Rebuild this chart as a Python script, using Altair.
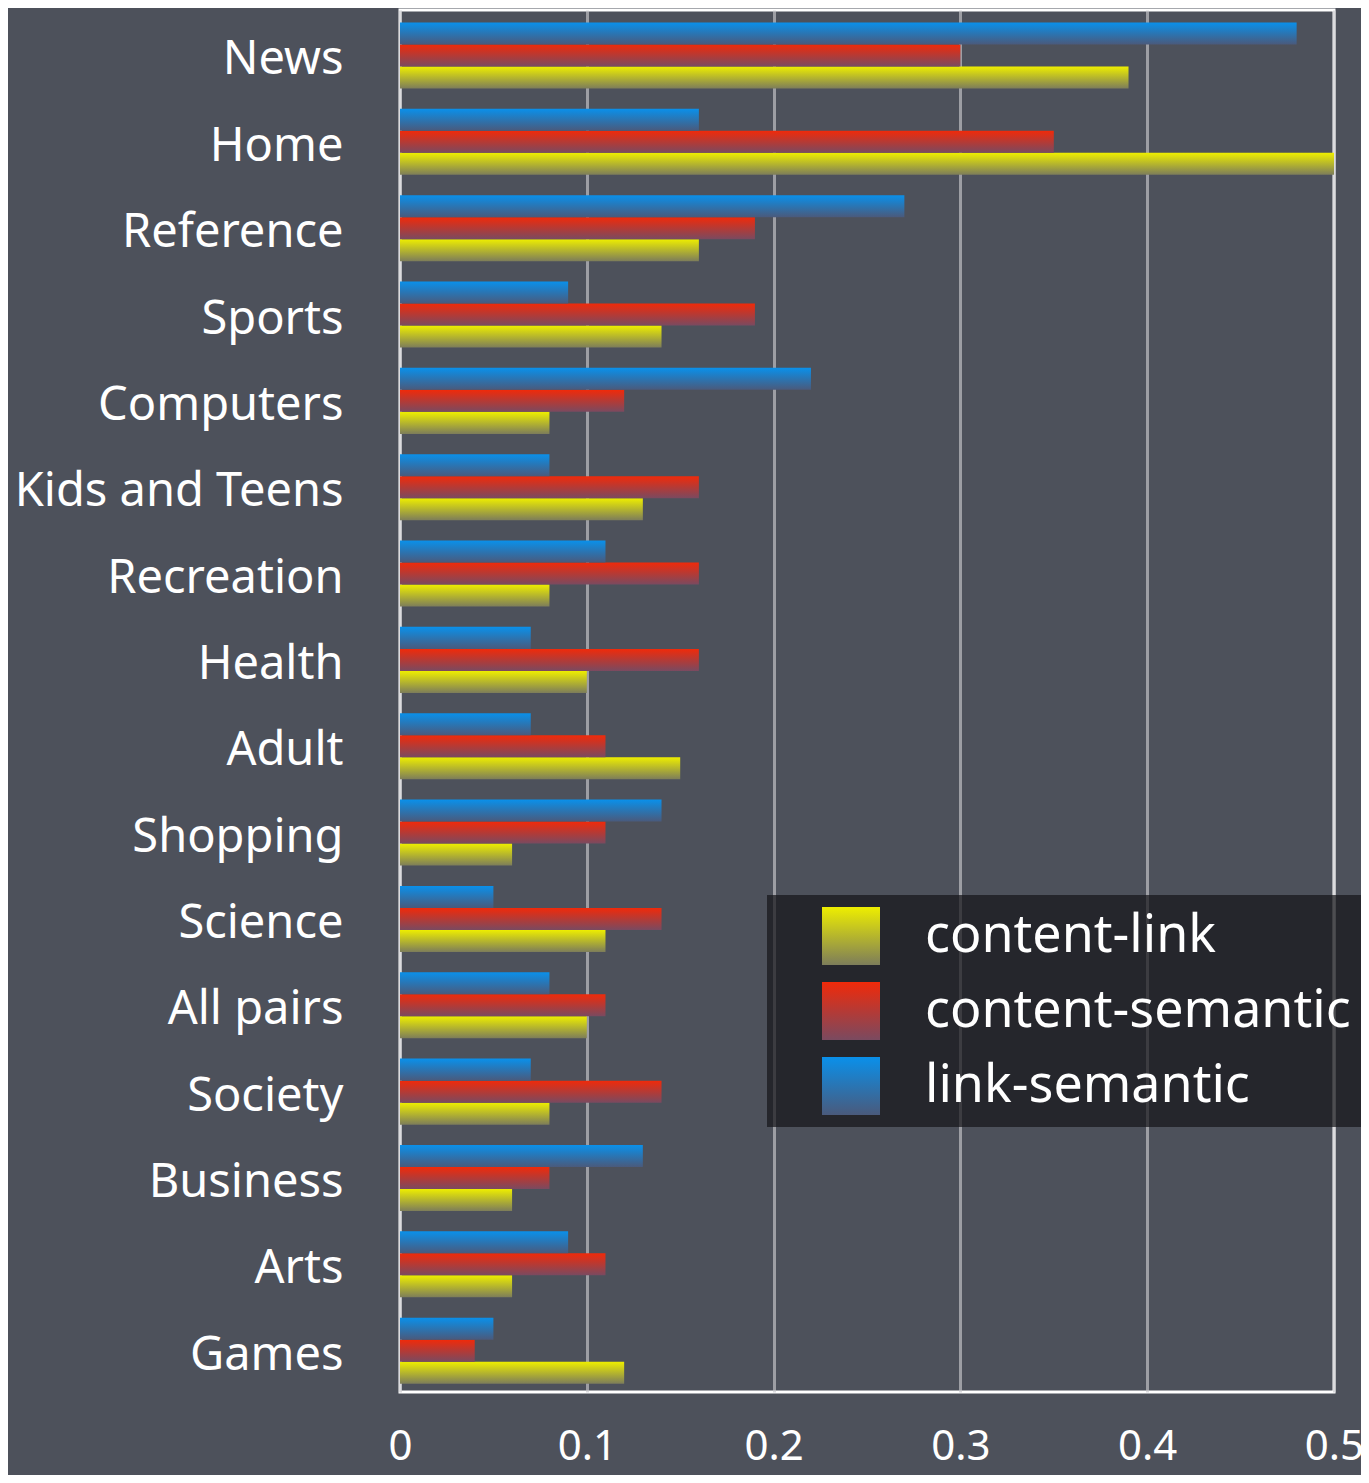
import altair as alt
import pandas as pd

categories = ["News", "Home", "Reference", "Sports", "Computers", "Kids and Teens",
              "Recreation", "Health", "Adult", "Shopping", "Science", "All pairs",
              "Society", "Business", "Arts", "Games"]
series_names = ["content-link", "content-semantic", "link-semantic"]
content_link = [0.39, 0.50, 0.16, 0.14, 0.08, 0.13, 0.08, 0.10, 0.15, 0.06, 0.11, 0.10, 0.08, 0.06, 0.06, 0.12]
content_semantic = [0.30, 0.35, 0.19, 0.19, 0.12, 0.16, 0.16, 0.16, 0.11, 0.11, 0.14, 0.11, 0.14, 0.08, 0.11, 0.04]
link_semantic = [0.48, 0.16, 0.27, 0.09, 0.22, 0.08, 0.11, 0.07, 0.07, 0.14, 0.05, 0.08, 0.07, 0.13, 0.09, 0.05]
x_ticks = [0, 0.1, 0.2, 0.3, 0.4, 0.5]

rows = []
for i, c in enumerate(categories):
    rows.append({"category": c, "series": "content-link", "value": content_link[i]})
    rows.append({"category": c, "series": "content-semantic", "value": content_semantic[i]})
    rows.append({"category": c, "series": "link-semantic", "value": link_semantic[i]})
df = pd.DataFrame(rows)


def grad(top, bottom):
    return {"expr": "{gradient:'linear',x1:0,y1:0,x2:0,y2:1,stops:[{offset:0,color:'%s'},{offset:1,color:'%s'}]}" % (top, bottom)}


FONT = "Noto Sans"

chart = alt.Chart(df).mark_bar().encode(
    y=alt.Y("category:N", sort=categories,
            scale=alt.Scale(paddingInner=0.235, paddingOuter=0.12, align=0.6),
            axis=alt.Axis(title=None, labelFontSize=47, labelColor="white", labelFont=FONT,
                          ticks=False, domain=False, labelPadding=57, grid=False, labelLimit=0,
                          labelOffset=5)),
    yOffset=alt.YOffset("series:N",
                        scale=alt.Scale(domain=["link-semantic", "content-semantic", "content-link"])),
    x=alt.X("value:Q", scale=alt.Scale(domain=[0, 0.5], nice=False),
            axis=alt.Axis(values=x_ticks, format="~g", title=None, labelFontSize=42,
                          labelColor="white", labelFont=FONT, ticks=False, domain=False,
                          labelPadding=34, gridColor="#c8c8cc", gridOpacity=0.65, gridWidth=3,
                          labelFlush=False)),
    color=alt.Color("series:N",
                    scale=alt.Scale(domain=series_names,
                                    range=[grad("#eeee00", "#7d7d5a"),
                                           grad("#f02a0a", "#7a4a60"),
                                           grad("#0a90ea", "#4a5a7c")]),
                    legend=alt.Legend(title=None, orient="none", legendX=367, legendY=885,
                                      fillColor="rgba(22,22,26,0.72)", padding=12,
                                      symbolOffset=43, symbolSize=3364, symbolType="square",
                                      symbolStrokeWidth=0, labelFontSize=52, labelColor="white",
                                      labelFont=FONT, labelOffset=45, rowPadding=17, labelLimit=0)),
).properties(
    width=934, height=1382,
    padding={"left": 392, "top": 2, "right": 27, "bottom": 83},
    autosize=alt.AutoSizeParams(type="none"),
    background="#4d515b",
).configure_view(
    stroke="white", strokeWidth=3
)

chart.save("out.html", embed_options={"renderer": "svg", "actions": False})
